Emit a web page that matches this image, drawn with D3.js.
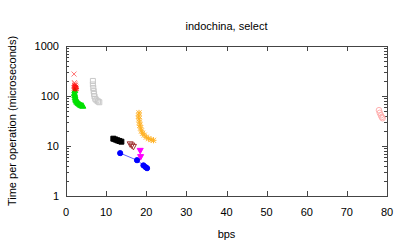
<!DOCTYPE html>
<html><head><meta charset="utf-8">
<script src="https://cdn.jsdelivr.net/npm/d3@7"></script>
<style>body{margin:0;background:#fff}svg{display:block}text{font-family:"Liberation Sans",Arial,sans-serif;font-size:11px;fill:#000}</style>
</head><body><svg id="c" width="407" height="244"></svg>
<script>
const title = "indochina, select";
const xLabel = "bps";
const yLabel = "Time per operation (microseconds)";
const xTicks = [0,10,20,30,40,50,60,70,80];
const yTicks = [1,10,100,1000];

const redX = [[2.0,275],[2.1,185],[2.2,175],[2.3,165]];
const redStar = [[2.2,160],[2.4,150],[2.1,145],[2.3,140],[2.5,142]];
const greenTri = [[2.2,130],[2.1,115],[2.2,105],[2.3,95],[2.4,88],[2.5,82],[2.7,77],[3.0,73],[3.3,70],[3.6,67],[3.9,65],[4.2,64]];
const greySq = [[6.7,200],[6.7,170],[6.8,145],[6.9,125],[7.0,110],[7.1,98],[7.3,88],[7.6,82],[8.0,78],[8.3,75]];
const blackSq = [[11.8,14],[12.3,13.5],[12.8,13],[13.3,12.6],[13.8,12.2]];
const brownTriDown = [[16.0,10.8],[16.4,10.2],[16.8,9.6]];
const magentaTriDown = [[18.5,8.0],[18.6,6.0]];
const orangeStar = [[18.2,46],[18.1,40],[18.2,35],[18.3,30],[18.4,26],[18.6,23],[18.8,20],[19.1,18],[19.5,16.5],[20.0,15],[20.6,14],[21.2,13.4],[21.8,13]];
const blueCirc = [[13.5,7.2],[17.7,5.2],[19.3,4.1],[19.8,3.8],[20.2,3.6]];
const pinkCirc = [[78.0,52],[78.2,46],[78.5,41],[78.7,38],[78.9,36]];

const svg = d3.select("#c");
const L=66,R=387,T=46,B=196;
const x = d3.scaleLinear().domain([0,80]).range([L,R]);
const y = d3.scaleLog().domain([1,1000]).range([B,T]);

svg.append("rect").attr("x",L+0.5).attr("y",T+0.5).attr("width",R-L).attr("height",B-T)
  .attr("fill","none").attr("stroke","#444").attr("stroke-width",1);

const g = svg.append("g");
xTicks.forEach(v=>{
  const px=Math.round(x(v))+0.5;
  g.append("line").attr("x1",px).attr("x2",px).attr("y1",B).attr("y2",B-5).attr("stroke","#444");
  g.append("line").attr("x1",px).attr("x2",px).attr("y1",T).attr("y2",T+5).attr("stroke","#444");
  g.append("text").attr("x",x(v)).attr("y",B+20).attr("text-anchor","middle").text(v);
});
for(let d=1; d<1000; d*=10){
  for(let m=1;m<10;m++){
    const v=d*m; const py=Math.round(y(v))+0.5;
    const len = m===1?5:3;
    g.append("line").attr("x1",L).attr("x2",L+len).attr("y1",py).attr("y2",py).attr("stroke","#444");
    g.append("line").attr("x1",R).attr("x2",R-len).attr("y1",py).attr("y2",py).attr("stroke","#444");
  }
}
yTicks.forEach(v=>{
  g.append("text").attr("x",L-7).attr("y",y(v)+4).attr("text-anchor","end").text(v);
  const py=Math.round(y(v))+0.5;
  g.append("line").attr("x1",L).attr("x2",L+5).attr("y1",py).attr("y2",py).attr("stroke","#444");
  g.append("line").attr("x1",R).attr("x2",R-5).attr("y1",py).attr("y2",py).attr("stroke","#444");
});

svg.append("text").attr("x",(L+R)/2).attr("y",30).attr("text-anchor","middle").text(title);
svg.append("text").attr("x",(L+R)/2).attr("y",238).attr("text-anchor","middle").text(xLabel);
svg.append("text").attr("transform",`translate(16,${(T+B)/2}) rotate(-90)`).attr("text-anchor","middle").text(yLabel);

const s=2.5;
const shapes = {
  x: `M${-s},${-s}L${s},${s}M${-s},${s}L${s},${-s}`,
  star: `M${-s},${-s}L${s},${s}M${-s},${s}L${s},${-s}M0,${-s-0.5}L0,${s+0.5}M${-s-0.5},0L${s+0.5},0`,
  sq: `M${-s},${-s}H${s}V${s}H${-s}Z`,
  triUp: `M0,${-s-0.5}L${s+0.5},${s}L${-s-0.5},${s}Z`,
  triDown: `M0,${s+0.5}L${s+0.5},${-s}L${-s-0.5},${-s}Z`
};
function pts(data, shape, color, fill, op){
  const gg=svg.append("g").attr("opacity",op);
  data.forEach(d=>{
    const px=x(d[0]), py=y(d[1]);
    if(shape==="circ"){
      gg.append("circle").attr("cx",px).attr("cy",py).attr("r",fill?2.6:2.8)
        .attr("fill",fill?color:"none").attr("stroke",color).attr("stroke-width",1);
    } else {
      gg.append("path").attr("d",shapes[shape]).attr("transform",`translate(${px},${py})`)
        .attr("fill",fill?color:"none").attr("stroke",color).attr("stroke-width",1);
    }
  });
}
svg.append("path").datum(blueCirc).attr("d",d3.line().x(d=>x(d[0])).y(d=>y(d[1])))
  .attr("fill","none").attr("stroke","#6060ff").attr("stroke-width",1);

pts(greySq,"sq","#c8c8c8",false,1);
pts(greenTri,"triUp","#00e000",true,1);
pts(redX,"x","#ff4040",false,0.7);
pts(redStar,"star","#ff0000",false,0.9);
pts(blackSq,"sq","#000000",true,1);
pts(brownTriDown,"triDown","#a03030",false,1);
pts(magentaTriDown,"triDown","#ff00ff",true,1);
pts(orangeStar,"star","#ffa500",false,0.85);
pts(blueCirc,"circ","#0000ff",true,1);
pts(pinkCirc,"circ","#ffb0b0",false,1);
</script></body></html>
